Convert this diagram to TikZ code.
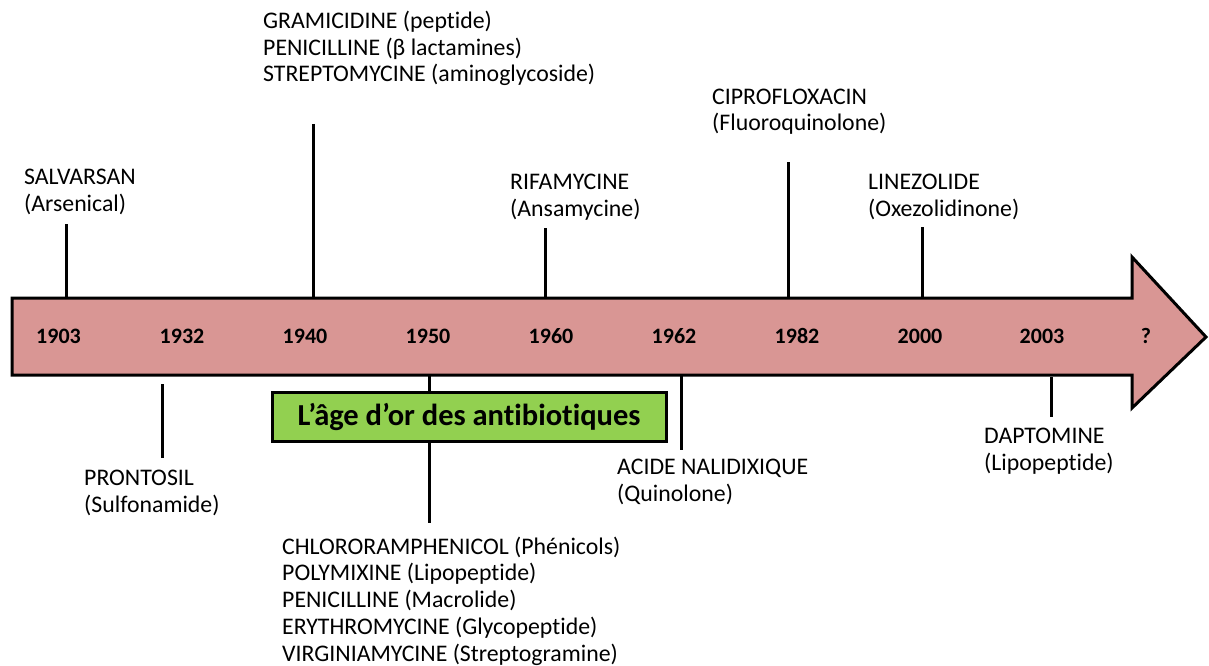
\documentclass[tikz,border=0pt]{standalone}
\usepackage{fontspec}
\setmainfont{Carlito}[Ligatures=NoCommon]
\definecolor{arrowpink}{HTML}{D99694}
\definecolor{boxgreen}{HTML}{92D050}
\begin{document}
\begin{tikzpicture}[x=1pt,y=-1pt,
  lbl/.style={anchor=base west,inner sep=0pt,align=left,font=\fontsize{23.8}{26.7}\selectfont},
  yr/.style={anchor=base,inner sep=0pt,font=\bfseries\fontsize{22}{26.7}\selectfont},
  tickline/.style={line width=3pt},
  agebox/.style={draw,line width=3pt,fill=boxgreen,minimum width=394pt,minimum height=49pt,inner sep=0pt,font=\bfseries\fontsize{30.5}{34}\selectfont}]
\useasboundingbox (0,0) rectangle (1209,666);
% arrow
\draw[line width=3pt,fill=arrowpink,line join=miter]
  (12,298) -- (1132,298) -- (1132,257) -- (1206,337) -- (1132,408) -- (1132,375) -- (12,375) -- cycle;
% years
\node[yr] (y1903) at (58.5,343) {1903};
\node[yr] (y1932) at (182,343) {1932};
\node[yr] (y1940) at (305,343) {1940};
\node[yr] (y1950) at (428,343) {1950};
\node[yr] (y1960) at (551,343) {1960};
\node[yr] (y1962) at (674,343) {1962};
\node[yr] (y1982) at (797,343) {1982};
\node[yr] (y2000) at (920,343) {2000};
\node[yr] (y2003) at (1042,343) {2003};
\node[yr] (yq) at (1146,343) {?};
% labels above (anchor = baseline of last line)
\node[lbl] (salv) at (24,211) {SALVARSAN\\(Arsenical)};
\node[lbl] (grami) at (263,82) {GRAMICIDINE (peptide)\\PENICILLINE (β lactamines)\\STREPTOMYCINE (aminoglycoside)};
\node[lbl] (rifa) at (510,216) {RIFAMYCINE\\(Ansamycine)};
\node[lbl] (cipro) at (712,131) {CIPROFLOXACIN\\(Fluoroquinolone)};
\node[lbl] (line) at (868,216) {LINEZOLIDE\\(Oxezolidinone)};
% labels below
\node[lbl] (pront) at (84,512) {PRONTOSIL\\(Sulfonamide)};
\node[lbl] (acide) at (617,501) {ACIDE NALIDIXIQUE\\(Quinolone)};
\node[lbl] (dapto) at (984,470) {DAPTOMINE\\(Lipopeptide)};
\node[lbl] (chloro) at (282,661) {CHLORORAMPHENICOL (Phénicols)\\POLYMIXINE (Lipopeptide)\\PENICILLINE (Macrolide)\\ERYTHROMYCINE (Glycopeptide)\\VIRGINIAMYCINE (Streptogramine)};
% green box
\node[agebox] (age) at (469,417) {L’âge d’or des antibiotiques};
% tick coordinates
\coordinate (t1903a) at (66,224);  \coordinate (t1903b) at (66,298);
\coordinate (t1940a) at (313,124); \coordinate (t1940b) at (313,298);
\coordinate (t1960a) at (545,228); \coordinate (t1960b) at (545,298);
\coordinate (t1982a) at (788,162); \coordinate (t1982b) at (788,298);
\coordinate (t2000a) at (922,227); \coordinate (t2000b) at (922,298);
\coordinate (t1932a) at (162,384); \coordinate (t1932b) at (162,458);
\coordinate (t1950a) at (429,375); \coordinate (t1950b) at (429,523);
\coordinate (t1962a) at (681,375); \coordinate (t1962b) at (681,450);
\coordinate (t2003a) at (1051,377); \coordinate (t2003b) at (1051,417);
\draw[tickline] (t1903a) -- (t1903b);
\draw[tickline] (t1940a) -- (t1940b);
\draw[tickline] (t1960a) -- (t1960b);
\draw[tickline] (t1982a) -- (t1982b);
\draw[tickline] (t2000a) -- (t2000b);
\draw[tickline] (t1932a) -- (t1932b);
\draw[tickline] (t1950a) -- (age.north -| t1950a);
\draw[tickline] (age.south -| t1950b) -- (t1950b);
\draw[tickline] (t1962a) -- (t1962b);
\draw[tickline] (t2003a) -- (t2003b);
\end{tikzpicture}
\end{document}
